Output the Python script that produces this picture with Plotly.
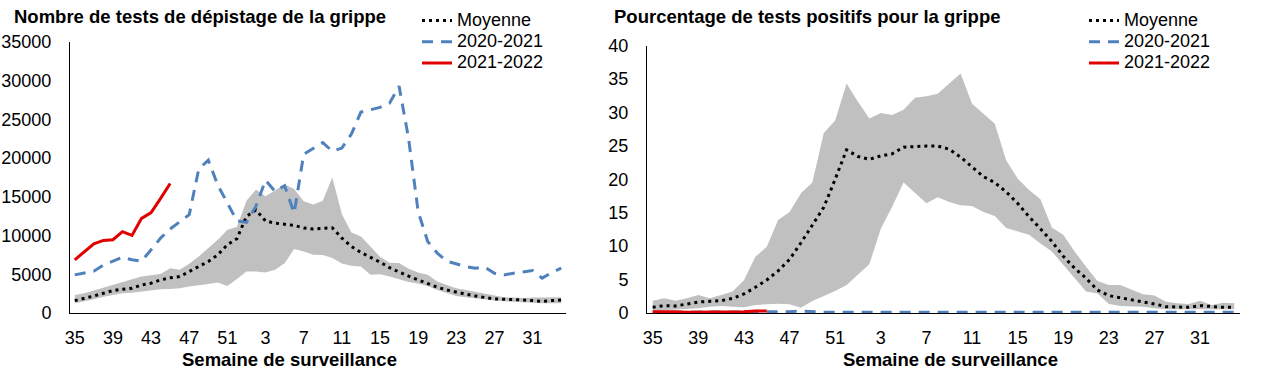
import plotly.graph_objects as go

# ---------------- categories ----------------
weeks = [str(w) for w in list(range(35, 53)) + list(range(1, 35))]
tick_weeks = ["35", "39", "43", "47", "51", "3", "7", "11", "15", "19", "23", "27", "31"]

# ---------------- left panel: number of tests ----------------
moy_tests = [1600, 1860, 2200, 2550, 2890, 3070, 3200, 3630, 3850, 4280, 4540, 4700, 5350,
             6000, 6650, 7520, 8810, 9600, 12480, 13300, 11900, 11600, 11450, 11320, 10980,
             10850, 10930, 11000, 9680, 8590, 7820, 7210, 6570, 5850, 5250, 4750, 4280, 3760,
             3330, 2980, 2680, 2420, 2200, 2030, 1810, 1770, 1770, 1680, 1600, 1510, 1600, 1680]
max_tests = [2330, 2550, 2890, 3280, 3630, 4060, 4360, 4700, 4920, 5050, 5790, 5570, 6350,
             7300, 8380, 9460, 10760, 11100, 14500, 15940, 15070, 15800, 16590, 16000, 14430,
             14000, 14500, 17500, 12800, 10400, 9890, 8590, 7250, 6500, 6450, 5700, 5220, 4925,
             4060, 3630, 3200, 2980, 2760, 2460, 2240, 2030, 1990, 1940, 1990, 2030, 2030, 2030]
min_tests = [1260, 1470, 1770, 2110, 2330, 2550, 2630, 2760, 2980, 3070, 3110, 3200, 3410,
             3550, 3760, 3950, 3500, 4400, 5350, 5350, 5220, 5570, 6440, 8250, 7950, 7520,
             7500, 7090, 6400, 6090, 6000, 4925, 5000, 4700, 4350, 4000, 3800, 3500, 2980,
             2630, 2200, 2030, 1860, 1680, 1600, 1510, 1430, 1340, 1300, 1260, 1260, 1260]
tests_2020 = [4925, 5140, 5400, 6200, 6750, 7200, 6870, 6700, 8160, 9680, 10850, 11830, 12700,
              18600, 19740, 16500, 14200, 11900, 11700, 13800, 17150, 15700, 16450, 12900,
              20500, 21300, 22000, 20900, 21300, 23100, 25950, 26250, 26550, 27100, 29300,
              22500, 13100, 9240, 7740, 6700, 6350, 6000, 5790, 5920, 5140, 4925, 5140, 5310,
              5480, 4500, 5220, 5790]
tests_2021 = [6870, 7900, 8940, 9370, 9460, 10500, 10020, 12220, 12960, 14810, 16720]

# ---------------- right panel: percent positive ----------------
moy_pct = [0.85, 1.1, 1.05, 1.35, 1.64, 1.74, 1.84, 2.2, 2.84, 3.84, 4.93, 6.3, 8.0, 10.5,
           13.1, 15.8, 20.0, 24.4, 23.4, 22.97, 23.5, 23.8, 24.8, 24.9, 24.96, 24.96, 24.5,
           23.3, 21.8, 20.4, 19.5, 18.1, 16.4, 14.4, 12.6, 10.7, 8.5, 6.7, 5.2, 3.44, 2.6, 2.3,
           1.9, 1.7, 1.35, 0.95, 0.95, 0.85, 1.1, 0.95, 0.85, 0.85]
max_pct = [1.84, 2.2, 1.84, 2.2, 2.7, 2.2, 2.7, 3.2, 4.9, 8.4, 9.9, 13.9, 15.1, 17.9, 19.5,
           26.9, 28.8, 34.3, 31.6, 29.1, 29.9, 29.6, 30.4, 32.2, 32.4, 32.8, 34.3, 35.8, 31.3,
           29.8, 28.3, 22.8, 20.1, 18.4, 17.0, 12.8, 11.7, 9.2, 6.9, 4.8, 4.2, 4.2, 3.5, 2.8,
           2.6, 1.7, 1.45, 1.35, 1.84, 1.2, 1.54, 1.45]
min_pct = [0.35, 0.45, 0.45, 0.55, 0.7, 0.95, 1.05, 0.95, 0.85, 1.2, 1.35, 1.4, 1.3, 0.8, 1.8,
           2.5, 3.3, 4.2, 5.8, 7.3, 12.6, 15.9, 19.5, 17.9, 16.4, 17.3, 16.6, 16.1, 16.0, 15.1,
           14.5, 12.7, 12.2, 11.7, 10.4, 9.2, 7.2, 5.2, 3.2, 2.9, 1.35, 1.05, 0.95, 0.95, 0.7,
           0.55, 0.55, 0.55, 0.55, 0.55, 0.55, 0.55]
pct_2020 = [0.1, 0.1, 0.1, 0.1, 0.1, 0.1, 0.1, 0.1, 0.1, 0.1, 0.1, 0.1, 0.2, 0.3, 0.15, 0.1,
            0.1, 0.1, 0.1, 0.1, 0.1, 0.1, 0.1, 0.1, 0.1, 0.1, 0.1, 0.1, 0.1, 0.1, 0.1, 0.1,
            0.1, 0.1, 0.1, 0.1, 0.1, 0.1, 0.1, 0.1, 0.1, 0.1, 0.1, 0.1, 0.1, 0.1, 0.1, 0.1,
            0.1, 0.1, 0.1, 0.1]
pct_2021 = [0.2, 0.25, 0.2, 0.1, 0.1, 0.1, 0.1, 0.15, 0.2, 0.3, 0.3]

series_names = ["Moyenne", "2020-2021", "2021-2022"]
titles = ["Nombre de tests de dépistage de la grippe",
          "Pourcentage de tests positifs pour la grippe"]
axis_title = "Semaine de surveillance"

# ---------------- styles ----------------
FONT = "Liberation Sans, Arial, sans-serif"
BAND = "#C0C0C0"
BLUE = "#4F81BD"
RED = "#E00000"
W, H = 1262, 377
TOP, BOTTOM = 42, 313

fig = go.Figure()

panels = [
    dict(x="x", y="y", lg="legend", lo=min_tests, hi=max_tests, moy=moy_tests,
         s20=tests_2020, s21=tests_2021),
    dict(x="x2", y="y2", lg="legend2", lo=min_pct, hi=max_pct, moy=moy_pct,
         s20=pct_2020, s21=pct_2021),
]

for p in panels:
    fig.add_trace(go.Scatter(x=weeks, y=p["lo"], mode="lines", line=dict(width=0, color=BAND),
                             showlegend=False, hoverinfo="skip", xaxis=p["x"], yaxis=p["y"]))
    fig.add_trace(go.Scatter(x=weeks, y=p["hi"], mode="lines", line=dict(width=0, color=BAND),
                             fill="tonexty", fillcolor=BAND, showlegend=False, hoverinfo="skip",
                             xaxis=p["x"], yaxis=p["y"]))

for p in panels:
    fig.add_trace(go.Scatter(x=weeks, y=p["moy"], mode="lines",
                             name=f'<span style="font-size:18px">{series_names[0]}</span>',
                             line=dict(color="black", width=3, dash="3px,4px"),
                             xaxis=p["x"], yaxis=p["y"], legend=p["lg"]))
    fig.add_trace(go.Scatter(x=weeks, y=p["s20"], mode="lines",
                             name=f'<span style="font-size:18px">{series_names[1]}</span>',
                             line=dict(color=BLUE, width=3, dash="11px,8px"),
                             xaxis=p["x"], yaxis=p["y"], legend=p["lg"]))
    fig.add_trace(go.Scatter(x=weeks[:len(p["s21"])], y=p["s21"], mode="lines",
                             name=f'<span style="font-size:18px">{series_names[2]}</span>',
                             line=dict(color=RED, width=3),
                             xaxis=p["x"], yaxis=p["y"], legend=p["lg"]))

xcommon = dict(type="category", categoryorder="array", categoryarray=weeks,
               range=[-0.5, len(weeks) - 0.5], tickmode="array", tickvals=tick_weeks,
               ticktext=tick_weeks, showline=True, linecolor="black", linewidth=1,
               showgrid=False, zeroline=False, ticks="", ticklabelstandoff=8,
               tickfont=dict(size=18, color="black", family=FONT))
ycommon = dict(showline=True, linecolor="black", linewidth=1, showgrid=False, zeroline=False,
               ticks="", ticklabelstandoff=14, tickfont=dict(size=18, color="black", family=FONT))

legcommon = dict(xanchor="left", y=1 - 5 / H, yanchor="top", yref="container",
                 traceorder="normal", bgcolor="rgba(0,0,0,0)", borderwidth=0,
                 font=dict(size=14, family=FONT))

ph = BOTTOM - TOP
fig.update_layout(
    width=W, height=H,
    margin=dict(l=0, r=0, t=TOP, b=H - BOTTOM, pad=0, autoexpand=False),
    paper_bgcolor="white", plot_bgcolor="white",
    font=dict(family=FONT, size=18, color="black"),
    xaxis=dict(domain=[70 / W, 566 / W], anchor="y", **xcommon),
    yaxis=dict(domain=[0, 1], anchor="x", range=[0, 35000], dtick=5000, tickformat="d",
               **ycommon),
    xaxis2=dict(domain=[647 / W, 1240 / W], anchor="y2", **xcommon),
    yaxis2=dict(domain=[0, (BOTTOM - 45.5) / ph], anchor="x2", range=[0, 40], dtick=5,
                **ycommon),
    legend=dict(x=417 / W, **legcommon),
    legend2=dict(x=1084 / W, **legcommon),
    showlegend=True,
)

annots = [
    dict(text=f"<b>{titles[0]}</b>", x=12 / W, y=(BOTTOM - 17) / ph, xanchor="left"),
    dict(text=f"<b>{titles[1]}</b>", x=612 / W, y=(BOTTOM - 17) / ph, xanchor="left"),
    dict(text=f"<b>{axis_title}</b>", x=289 / W, y=(BOTTOM - 359) / ph, xanchor="center"),
    dict(text=f"<b>{axis_title}</b>", x=950 / W, y=(BOTTOM - 359) / ph, xanchor="center"),
]
for a in annots:
    fig.add_annotation(xref="paper", yref="paper", yanchor="middle", showarrow=False,
                       font=dict(size=18.5, family=FONT, color="black"), **a)

fig.write_html("out.html", config={"displayModeBar": False},
               post_script="document.body.style.margin='0';document.body.style.overflow='hidden';")
